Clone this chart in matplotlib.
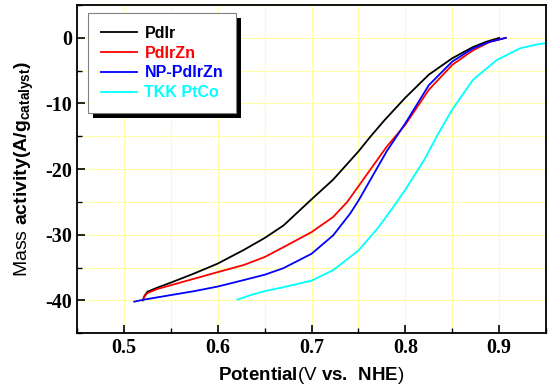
import matplotlib
matplotlib.use("Agg")
import matplotlib.pyplot as plt
from matplotlib.ticker import MultipleLocator, FormatStrFormatter
from matplotlib.patches import Rectangle
from matplotlib.transforms import IdentityTransform

# curves (potential in V, mass activity in A/g)
pdir_v = [0.520, 0.522, 0.525, 0.535, 0.550, 0.575, 0.600, 0.628, 0.650, 0.670, 0.700, 0.723,
          0.750, 0.763, 0.778, 0.800, 0.825, 0.850, 0.872, 0.886, 0.900]
pdir_i = [-40.0, -39.3, -38.7, -38.1, -37.3, -35.9, -34.4, -32.3, -30.5, -28.6, -24.6, -21.6,
          -17.3, -15.0, -12.5, -9.1, -5.6, -3.1, -1.4, -0.6, 0.0]

pdirzn_v = [0.520, 0.522, 0.525, 0.535, 0.550, 0.575, 0.600, 0.628, 0.650, 0.670, 0.700, 0.723,
            0.738, 0.750, 0.766, 0.780, 0.800, 0.825, 0.850, 0.872, 0.890, 0.907]
pdirzn_i = [-40.0, -39.4, -38.9, -38.3, -37.7, -36.7, -35.7, -34.6, -33.4, -31.9, -29.6, -27.3,
            -25.0, -22.6, -19.4, -16.6, -13.2, -7.9, -4.1, -1.9, -0.6, 0.0]

np_v = [0.511, 0.521, 0.550, 0.575, 0.600, 0.628, 0.650, 0.670, 0.700, 0.723, 0.741, 0.750,
        0.766, 0.780, 0.800, 0.825, 0.850, 0.872, 0.890, 0.907]
np_i = [-40.2, -39.9, -39.2, -38.6, -37.9, -36.9, -36.1, -35.1, -32.9, -30.1, -26.8, -24.8,
        -20.8, -17.3, -13.0, -7.2, -3.6, -1.6, -0.6, 0.0]

tkk_v = [0.621, 0.635, 0.650, 0.670, 0.700, 0.723, 0.750, 0.770, 0.788, 0.800, 0.820, 0.835,
         0.850, 0.872, 0.897, 0.922, 0.940, 0.950]
tkk_i = [-39.9, -39.2, -38.6, -38.0, -37.0, -35.4, -32.4, -29.1, -25.6, -23.1, -18.6, -14.6,
         -10.9, -6.4, -3.4, -1.6, -1.0, -0.8]

names = ["PdIr", "PdIrZn", "NP-PdIrZn", "TKK PtCo"]
colors = ["black", "red", "blue", "cyan"]

plt.rcParams['font.family'] = 'Liberation Serif'
plt.rcParams['font.weight'] = 'bold'
plt.rcParams['mathtext.fontset'] = 'custom'
plt.rcParams['mathtext.rm'] = 'Liberation Sans'
plt.rcParams['mathtext.bf'] = 'Liberation Sans:bold'

fig = plt.figure(figsize=(5.5, 3.91), dpi=100)
ax = fig.add_axes([0.14, 0.148, 0.853, 0.839])

for v, i, c, n in zip([pdir_v, pdirzn_v, np_v, tkk_v], [pdir_i, pdirzn_i, np_i, tkk_i], colors, names):
    ax.plot(v, i, color=c, lw=1.3, label=n)

ax.set_xlim(0.45, 0.95)
ax.set_ylim(-45, 5)
ax.xaxis.set_major_locator(MultipleLocator(0.1))
ax.xaxis.set_minor_locator(MultipleLocator(0.05))
ax.yaxis.set_major_locator(MultipleLocator(10))
ax.yaxis.set_minor_locator(MultipleLocator(5))
ax.xaxis.set_major_formatter(FormatStrFormatter('%.1f'))
ax.yaxis.set_major_formatter(FormatStrFormatter('%d'))
ax.grid(True, which='both', color='#ffffa8', lw=0.8)
ax.set_axisbelow(True)
ax.tick_params(which='both', direction='in', top=False, right=False, labelsize=14.5)
ax.tick_params(which='major', length=6, width=1.2)
ax.tick_params(which='minor', length=3.5, width=1.0)
for s in ax.spines.values():
    s.set_linewidth(1.3)

ax.set_xlabel(r"$\mathbf{Potential}$(V $\mathbf{vs.\ NHE}$)", fontsize=13.5,
              family='Liberation Sans', weight='normal', labelpad=5)
ax.set_ylabel(r"Mass $\mathbf{activity(A/g_{catalyst})}$", fontsize=14,
              family='Liberation Sans', weight='normal', labelpad=7)

leg = ax.legend(loc='upper left', bbox_to_anchor=(0.023, 0.976), borderaxespad=0, fancybox=False,
                edgecolor='gray', framealpha=1, handlelength=2.3, handletextpad=0.45,
                borderpad=0.8, labelspacing=0.3,
                prop={'family': 'Liberation Sans', 'weight': 'bold', 'size': 11.5})
leg.get_frame().set_linewidth(0.8)
leg.set_zorder(6)
for t, c in zip(leg.get_texts(), colors):
    t.set_color(c)

# hard black drop shadow behind the legend box
fig.canvas.draw()
bb = leg.get_window_extent()
shadow = Rectangle((bb.x0 + 5, bb.y0 - 5), bb.width, bb.height, transform=IdentityTransform(),
                   facecolor='black', edgecolor='none', zorder=5, clip_on=False)
ax.add_artist(shadow)

fig.savefig("out.png", dpi=100)
